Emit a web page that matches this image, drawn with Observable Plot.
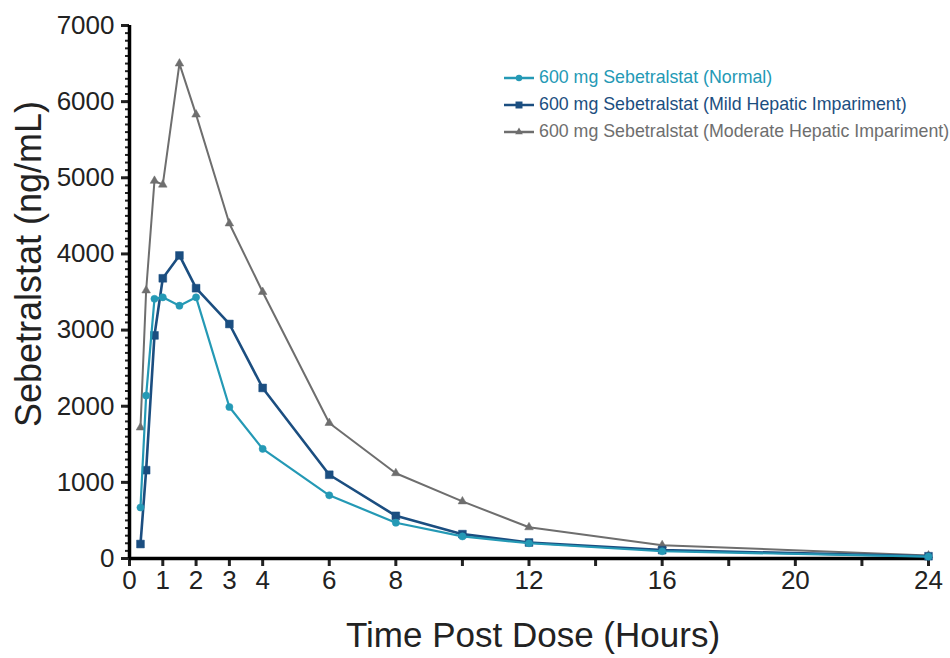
<!DOCTYPE html>
<html><head><meta charset="utf-8">
<script src="https://cdn.jsdelivr.net/npm/d3@7"></script>
<script src="https://cdn.jsdelivr.net/npm/@observablehq/plot@0.6"></script>
<style>
body{margin:0;background:#fff;}
#wrap{position:relative;width:950px;height:658px;font-family:Arial,"Liberation Sans",sans-serif;}
#legend{position:absolute;left:503px;top:64px;font-size:17.8px;}
#legend .row{display:flex;align-items:center;height:27px;white-space:nowrap;}
#legend svg{margin-right:4px;}
</style></head><body><div id="wrap"><div id="legend"></div></div>
<script>
const time = [0.33, 0.5, 0.75, 1, 1.5, 2, 3, 4, 6, 8, 10, 12, 16, 24];
const normal = [670, 2140, 3410, 3430, 3320, 3430, 1990, 1440, 830, 470, 290, 200, 95, 25];
const mild = [190, 1160, 2930, 3680, 3980, 3550, 3080, 2240, 1100, 560, 320, 210, 110, 30];
const moderate = [1720, 3520, 4960, 4910, 6500, 5830, 4400, 3500, 1780, 1120, 750, 410, 175, 40];
const seriesNames = ["600 mg Sebetralstat (Normal)", "600 mg Sebetralstat (Mild Hepatic Impariment)", "600 mg Sebetralstat (Moderate Hepatic Impariment)"];
const seriesColors = ["#2499b5", "#1b4e80", "#6e6e6e"];
const seriesSymbols = ["circle", "square", "triangle"];
const seriesR = [3.6, 4.4, 3.2];
const seriesWidth = [2.2, 2.6, 2.0];
const xTickLabels = [0, 1, 2, 3, 4, 6, 8, 12, 16, 20, 24];
const xMinorTicks = [10, 14, 18, 22];
const yTicks = d3.range(0, 7001, 1000);
const yMinorTicks = d3.range(0, 7001, 100);
const xTitle = "Time Post Dose (Hours)";
const yTitle = "Sebetralstat (ng/mL)";

const seriesValues = [normal, mild, moderate];
const data = [];
seriesValues.forEach((vals, i) => vals.forEach((v, j) => data.push({series: seriesNames[i], t: time[j], c: v})));

const drawOrder = [2, 1, 0];
const seriesMarks = drawOrder.flatMap(i => {
  const sub = data.filter(d => d.series === seriesNames[i]);
  return [
    Plot.line(sub, {x: "t", y: "c", stroke: seriesColors[i], strokeWidth: seriesWidth[i]}),
    Plot.dot(sub, {x: "t", y: "c", fill: seriesColors[i], stroke: seriesColors[i], strokeWidth: 0.5, symbol: seriesSymbols[i], r: seriesR[i]})
  ];
});

const chart = Plot.plot({
  width: 950,
  height: 658,
  marginLeft: 129,
  marginRight: 22,
  marginTop: 25,
  marginBottom: 100,
  style: {fontFamily: "Arial, 'Liberation Sans', sans-serif", color: "#222", background: "transparent"},
  x: {domain: [0, 24]},
  y: {domain: [0, 7000]},
  marks: [
    Plot.axisY(yMinorTicks, {tickSize: 4, strokeWidth: 2, tickFormat: () => "", label: null}),
    Plot.axisY(yTicks, {tickSize: 8, strokeWidth: 3, tickPadding: 7, fontSize: 26, label: null, tickFormat: d => String(d)}),
    Plot.axisX(xMinorTicks, {tickSize: 8, strokeWidth: 3, tickFormat: () => "", label: null}),
    Plot.axisX(xTickLabels, {tickSize: 8, strokeWidth: 3, tickPadding: 4, fontSize: 26, label: null, tickFormat: d => String(d)}),
    Plot.ruleX([0], {stroke: "black", strokeWidth: 3.5}),
    Plot.ruleY([0], {stroke: "black", strokeWidth: 3.5}),
    ...seriesMarks,
    Plot.text([yTitle], {frameAnchor: "left", textAnchor: "middle", rotate: -90, dx: -100, dy: -28, fontSize: 36, fill: "#222"}),
    Plot.text([xTitle], {frameAnchor: "bottom", dx: 4, dy: 88, fontSize: 35, fill: "#222"})
  ]
});
const wrap = document.getElementById("wrap");
wrap.insertBefore(chart, wrap.firstChild);

const legend = document.getElementById("legend");
seriesNames.forEach((name, i) => {
  const row = document.createElement("div");
  row.className = "row";
  row.style.color = seriesColors[i];
  const sw = d3.create("svg").attr("width", 32).attr("height", 14);
  sw.append("line").attr("x1", 1).attr("x2", 31).attr("y1", 7).attr("y2", 7).attr("stroke", seriesColors[i]).attr("stroke-width", 2.5);
  const sym = {circle: d3.symbolCircle, square: d3.symbolSquare, triangle: d3.symbolTriangle}[seriesSymbols[i]];
  sw.append("path").attr("d", d3.symbol(sym, Math.PI * seriesR[i] * seriesR[i] * 0.8)()).attr("transform", "translate(16,7)").attr("fill", seriesColors[i]);
  row.appendChild(sw.node());
  const span = document.createElement("span");
  span.textContent = name;
  row.appendChild(span);
  legend.appendChild(row);
});
</script>
</body></html>
